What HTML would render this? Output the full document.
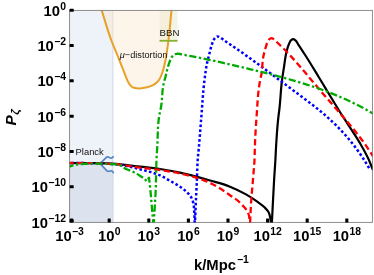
<!DOCTYPE html><html><head><meta charset="utf-8"><style>html,body{margin:0;padding:0;background:#fff}svg{display:block;will-change:transform}</style></head><body><svg width="374" height="275" viewBox="0 0 374 275">
<rect width="374" height="275" fill="#fff"/>
<defs><clipPath id="c"><rect x="69.60" y="10.40" width="302.80" height="212.00"/></clipPath></defs>
<rect x="69.60" y="10.40" width="43.70" height="212.00" fill="#eef2f9"/>
<path d="M69.6,163.5 L100.8,163.6 L100.80,164.40 L107.00,170.80 L107.00,170.80 C107.33,170.97 107.65,171.21 108.00,171.30 C108.47,171.41 109.00,171.26 109.50,171.20 C110.14,171.12 110.82,170.65 111.40,170.80 C111.83,170.91 112.26,171.27 112.60,171.60 C113.04,172.03 113.27,172.67 113.60,173.20 L113.3,222.4 L69.6,222.4 Z" fill="#dce3ee"/>
<line x1="112.8" x2="112.8" y1="10.4" y2="222.4" stroke="#d3dbe9" stroke-width="1"/>
<rect x="159.5" y="10.40" width="18" height="30.6" fill="#f2f4e5"/>
<path d="M101.70,10.40 C104.87,20.27 107.56,30.30 111.20,40.00 C113.22,45.39 115.55,50.66 117.70,56.00 C119.85,61.36 121.98,66.73 124.10,72.10 C125.07,74.57 125.87,77.11 127.00,79.50 C127.79,81.17 128.47,82.96 129.60,84.40 C130.48,85.52 131.51,86.71 132.70,87.40 C134.46,88.42 136.90,88.34 139.00,88.40 C141.69,88.48 144.48,87.99 147.10,87.30 C149.29,86.72 151.55,86.04 153.50,84.90 C154.74,84.17 155.97,83.31 157.00,82.30 C157.86,81.46 158.65,80.51 159.30,79.50 C160.00,78.42 160.48,77.19 161.00,76.00 C161.51,74.85 161.97,73.68 162.40,72.50 C163.93,68.31 164.70,63.87 165.60,59.50 C166.93,53.07 167.65,46.52 168.50,40.00 C169.78,30.17 170.50,20.27 171.50,10.40 Z" fill="#fbe6cc" fill-opacity="0.42"/>
<path d="M101.70,10.40 C104.87,20.27 107.56,30.30 111.20,40.00 C113.22,45.39 115.55,50.66 117.70,56.00 C119.85,61.36 121.98,66.73 124.10,72.10 C125.07,74.57 125.87,77.11 127.00,79.50 C127.79,81.17 128.47,82.96 129.60,84.40 C130.48,85.52 131.51,86.71 132.70,87.40 C134.46,88.42 136.90,88.34 139.00,88.40 C141.69,88.48 144.48,87.99 147.10,87.30 C149.29,86.72 151.55,86.04 153.50,84.90 C154.74,84.17 155.97,83.31 157.00,82.30 C157.86,81.46 158.65,80.51 159.30,79.50 C160.00,78.42 160.48,77.19 161.00,76.00 C161.51,74.85 161.97,73.68 162.40,72.50 C163.93,68.31 164.70,63.87 165.60,59.50 C166.93,53.07 167.65,46.52 168.50,40.00 C169.78,30.17 170.50,20.27 171.50,10.40" fill="none" stroke="#e8a128" stroke-width="2.0"/>
<line x1="159.5" x2="177.5" y1="40.8" y2="40.8" stroke="#88b230" stroke-width="1.8"/>
<path d="M69.6,163.3 L100.2,163.5 L100.80,162.80 L106.60,157.10 L106.60,157.10 C106.93,157.00 107.27,156.80 107.60,156.80 C108.01,156.81 108.40,157.13 108.80,157.30 C109.31,157.52 109.77,157.90 110.30,158.00 C110.72,158.08 111.20,158.12 111.60,158.00 C111.96,157.89 112.30,157.64 112.60,157.40 C112.98,157.10 113.27,156.67 113.60,156.30" fill="none" stroke="#5585c6" stroke-width="1.7" stroke-linejoin="round"/>
<path d="M100.2,163.5 L100.80,164.40 L107.00,170.80 L107.00,170.80 C107.33,170.97 107.65,171.21 108.00,171.30 C108.47,171.41 109.00,171.26 109.50,171.20 C110.14,171.12 110.82,170.65 111.40,170.80 C111.83,170.91 112.26,171.27 112.60,171.60 C113.04,172.03 113.27,172.67 113.60,173.20" fill="none" stroke="#5585c6" stroke-width="1.7" stroke-linejoin="round"/>
<rect x="69.60" y="10.40" width="302.80" height="212.00" fill="none" stroke="#808080" stroke-width="0.9"/>
<g clip-path="url(#c)" fill="none" stroke-linejoin="round">
<path id="c000" d="M69.60,163.00 C79.73,163.07 89.88,162.84 100.00,163.20 C106.67,163.44 113.35,163.72 120.00,164.30 C126.69,164.88 133.33,165.92 140.00,166.70 C146.66,167.48 153.36,168.02 160.00,169.00 C166.70,169.99 173.39,171.16 180.00,172.60 C185.13,173.72 190.22,175.06 195.30,176.40 C200.22,177.70 205.12,179.07 210.00,180.50 C216.70,182.46 223.54,184.11 230.00,186.70 C235.48,188.89 240.87,191.47 246.00,194.40 C249.88,196.62 253.67,199.08 257.30,201.70 C259.76,203.48 262.37,205.15 264.50,207.30 C265.96,208.77 267.54,210.29 268.50,212.10 C269.28,213.56 269.71,215.27 270.10,216.90 C270.53,218.69 270.63,220.57 270.90,222.40 L271.90,222.40 C272.27,215.23 272.63,208.07 273.00,200.90 C273.36,193.93 273.69,186.96 274.10,180.00 C274.49,173.33 275.03,166.67 275.40,160.00 C275.66,155.33 275.82,150.66 276.10,146.00 C276.70,135.99 277.31,125.96 278.50,116.00 C278.78,113.66 279.12,111.34 279.40,109.00 C280.52,99.70 280.71,90.29 281.90,81.00 C282.58,75.65 283.53,70.34 284.30,65.00 C284.64,62.67 284.91,60.32 285.30,58.00 C285.65,55.89 285.99,53.77 286.50,51.70 C287.21,48.81 287.93,45.84 289.30,43.20 C289.83,42.17 290.23,40.89 291.10,40.20 C291.70,39.72 292.58,39.18 293.30,39.20 C294.05,39.22 294.86,39.90 295.50,40.40 C296.62,41.29 297.17,42.82 298.00,44.03 C300.40,47.57 302.70,51.17 305.00,54.77 C307.37,58.48 309.69,62.23 312.00,65.98 C314.36,69.81 316.67,73.65 319.00,77.49 C321.34,81.36 323.66,85.25 326.00,89.12 C328.33,92.97 330.65,96.83 333.00,100.67 C335.31,104.45 337.64,108.22 340.00,111.96 C342.30,115.61 344.66,119.23 347.00,122.85 C349.32,126.45 351.71,130.01 354.00,133.62 C356.38,137.36 358.78,141.09 361.00,144.93 C363.47,149.20 365.90,153.53 368.00,158.00 C369.85,161.94 371.33,166.05 373.00,170.08" stroke="#000" stroke-width="2.20"/>
<path id="c0000ff" d="M69.60,163.00 C79.73,163.17 89.88,163.00 100.00,163.50 C106.97,163.84 114.01,163.97 120.90,165.00 C127.37,165.97 133.76,167.63 140.10,169.30 C146.80,171.07 153.71,172.55 160.00,175.40 C163.44,176.96 166.70,178.94 170.00,180.80 C173.16,182.58 176.42,184.24 179.40,186.30 C182.13,188.18 184.90,190.13 187.20,192.50 C188.61,193.95 190.08,195.47 191.10,197.20 C192.20,199.07 192.88,201.28 193.40,203.40 C194.02,205.95 193.99,208.66 194.20,211.30 C194.49,214.99 194.53,218.70 194.70,222.40 L195.00,222.40 C195.27,216.07 195.52,209.73 195.80,203.40 C196.15,195.60 196.56,187.80 196.90,180.00 C197.19,173.33 197.23,166.65 197.70,160.00 C198.03,155.33 198.59,150.67 199.00,146.00 C199.89,136.01 200.57,126.00 201.40,116.00 C202.39,104.00 202.96,91.94 204.50,80.00 C205.22,74.42 205.83,68.80 207.00,63.30 C207.66,60.21 208.49,57.16 209.30,54.10 C210.30,50.32 211.00,46.40 212.50,42.80 C213.12,41.30 213.61,39.67 214.60,38.40 C215.02,37.87 215.43,37.24 216.00,36.90 C216.41,36.65 216.93,36.43 217.40,36.40 C217.93,36.37 218.50,36.59 219.00,36.80 C219.53,37.02 220.01,37.39 220.50,37.70 C221.04,38.05 221.57,38.42 222.10,38.80 C222.74,39.26 223.36,39.75 224.00,40.22 C226.27,41.87 228.68,43.35 231.00,44.93 C233.34,46.53 235.67,48.14 238.00,49.77 C240.34,51.40 242.67,53.05 245.00,54.71 C247.34,56.38 249.67,58.06 252.00,59.75 C254.34,61.44 256.67,63.14 259.00,64.85 C261.34,66.57 263.67,68.29 266.00,70.02 C268.34,71.75 270.67,73.49 273.00,75.22 C275.34,76.96 277.67,78.71 280.00,80.46 C282.33,82.20 284.67,83.95 287.00,85.70 C289.33,87.44 291.67,89.19 294.00,90.93 C296.33,92.67 298.67,94.40 301.00,96.15 C303.34,97.89 305.68,99.63 308.00,101.40 C310.35,103.19 312.69,104.98 315.00,106.82 C317.36,108.68 319.70,110.57 322.00,112.51 C324.37,114.50 326.71,116.53 329.00,118.60 C331.38,120.76 333.72,122.97 336.00,125.22 C338.39,127.59 340.73,130.01 343.00,132.48 C345.40,135.10 347.74,137.78 350.00,140.51 C352.42,143.44 354.76,146.45 357.00,149.51 C359.44,152.84 361.77,156.26 364.00,159.74 C365.87,162.65 367.60,165.66 369.40,168.63" stroke="#0000ff" stroke-width="2.50" stroke-dasharray="2.6 2.3" stroke-dashoffset="3.15"/>
<path id="cff0000" d="M69.60,163.00 C79.73,163.10 89.88,162.86 100.00,163.30 C106.67,163.59 113.37,163.87 120.00,164.60 C126.70,165.33 133.32,166.80 140.00,167.70 C146.65,168.60 153.36,169.04 160.00,170.00 C166.70,170.97 173.39,172.07 180.00,173.50 C185.13,174.61 190.30,175.72 195.30,177.30 C201.07,179.12 206.81,181.27 212.20,184.00 C216.42,186.13 220.45,188.68 224.40,191.30 C226.29,192.56 228.14,193.89 230.00,195.20 C232.68,197.08 235.53,198.77 238.00,200.90 C239.99,202.62 241.85,204.53 243.60,206.50 C244.75,207.79 246.02,209.04 246.90,210.50 C247.79,211.97 248.43,213.65 248.90,215.30 C249.54,217.57 249.43,220.03 249.70,222.40 L250.10,222.40 C250.47,215.23 250.71,208.06 251.20,200.90 C251.64,194.46 252.28,188.03 252.80,181.60 C253.38,174.40 254.15,167.21 254.50,160.00 C254.72,155.34 254.73,150.66 254.90,146.00 C255.28,135.99 255.84,125.98 256.60,116.00 C257.52,103.98 257.84,91.82 260.20,80.00 C260.60,77.99 261.13,76.01 261.50,74.00 C262.52,68.51 262.14,62.78 263.20,57.30 C263.83,54.07 264.60,50.84 265.60,47.70 C266.30,45.50 266.76,43.12 268.00,41.20 C268.52,40.39 269.03,39.44 269.80,38.90 C270.32,38.53 271.01,38.12 271.60,38.10 C272.34,38.08 273.12,38.76 273.80,39.20 C275.03,39.98 275.94,41.22 277.00,42.24 C279.35,44.48 281.71,46.72 284.00,49.02 C286.38,51.43 288.70,53.91 291.00,56.40 C293.37,58.97 295.69,61.59 298.00,64.22 C300.36,66.90 302.68,69.63 305.00,72.35 C307.35,75.10 309.67,77.88 312.00,80.64 C314.34,83.42 316.66,86.20 319.00,88.97 C321.32,91.71 323.65,94.45 326.00,97.18 C328.32,99.87 330.66,102.54 333.00,105.22 C335.33,107.89 337.68,110.55 340.00,113.23 C342.35,115.93 344.69,118.64 347.00,121.37 C349.36,124.17 351.71,126.98 354.00,129.83 C356.37,132.78 358.73,135.76 361.00,138.79 C363.40,141.99 365.76,145.22 368.00,148.54 C369.72,151.08 371.33,153.71 373.00,156.29" stroke="#ff0000" stroke-width="2.30" stroke-dasharray="6.3 3.4" stroke-dashoffset="2.35"/>
<path id="green" d="M69.60,166.50 C70.73,166.10 71.85,165.62 73.00,165.30 C74.31,164.93 75.66,164.71 77.00,164.50 C78.65,164.24 80.33,164.14 82.00,164.00 C87.98,163.50 94.00,163.49 100.00,163.60 C103.33,163.66 106.68,163.70 110.00,164.00 C113.65,164.33 117.68,164.01 120.90,165.60 C122.35,166.32 123.57,167.58 125.00,168.40 C127.25,169.68 129.86,170.27 132.20,171.40 C135.10,172.80 137.89,174.46 140.60,176.20 C141.85,177.00 143.18,177.73 144.30,178.70 C145.17,179.45 145.90,180.37 146.70,181.20 L149,177.6 L150.4,190 L153.2,222.4 L153.80,222.40 C154.43,211.60 155.25,200.81 155.70,190.00 C156.12,180.01 156.03,169.99 156.50,160.00 C156.72,155.33 157.02,150.67 157.30,146.00 C157.89,136.00 157.57,125.87 159.20,116.00 C159.75,112.65 160.64,109.35 161.20,106.00 C162.30,99.40 161.92,92.57 163.20,86.00 C163.53,84.33 163.86,82.65 164.30,81.00 C164.57,79.99 164.92,79.00 165.20,78.00 C165.91,75.46 166.32,72.84 167.00,70.30 C167.71,67.64 168.41,64.96 169.40,62.40 C170.11,60.56 170.63,58.55 171.80,57.00 C172.50,56.08 173.29,55.04 174.30,54.50 C175.01,54.12 175.89,53.91 176.70,53.80 C177.78,53.65 178.91,53.87 180.00,54.00 C181.35,54.16 182.67,54.54 184.00,54.80 C186.33,55.25 188.67,55.68 191.00,56.13 C193.33,56.59 195.67,57.05 198.00,57.52 C200.33,57.99 202.67,58.47 205.00,58.95 C207.33,59.44 209.67,59.93 212.00,60.43 C214.33,60.93 216.67,61.44 219.00,61.95 C221.33,62.46 223.67,62.98 226.00,63.51 C228.33,64.04 230.67,64.57 233.00,65.11 C235.33,65.65 237.67,66.20 240.00,66.75 C242.33,67.30 244.67,67.86 247.00,68.42 C249.33,68.99 251.67,69.56 254.00,70.13 C256.33,70.71 258.67,71.28 261.00,71.87 C263.33,72.45 265.67,73.04 268.00,73.64 C270.33,74.23 272.67,74.83 275.00,75.44 C277.34,76.06 279.67,76.67 282.00,77.31 C284.34,77.94 286.67,78.58 289.00,79.24 C291.34,79.90 293.67,80.57 296.00,81.26 C298.34,81.95 300.67,82.65 303.00,83.37 C305.34,84.10 307.67,84.84 310.00,85.61 C312.34,86.38 314.67,87.16 317.00,87.98 C319.34,88.79 321.68,89.63 324.00,90.49 C326.34,91.36 328.68,92.25 331.00,93.17 C333.34,94.09 335.68,95.04 338.00,96.02 C340.34,97.01 342.68,98.02 345.00,99.07 C347.35,100.13 349.68,101.21 352.00,102.33 C354.35,103.46 356.68,104.62 359.00,105.81 C361.35,107.02 363.68,108.26 366.00,109.53 C368.35,110.82 370.67,112.18 373.00,113.51" stroke="#00aa00" stroke-width="2.3" stroke-dasharray="7.2 2.5 2.4 2.5" stroke-dashoffset="3.2"/>
</g>
<rect x="70.05" y="218.5" width="3.1" height="4" rx="0.5" fill="#000"/>
<rect x="107.65" y="218.5" width="3.1" height="4" rx="0.5" fill="#000"/>
<rect x="147.25" y="218.5" width="3.1" height="4" rx="0.5" fill="#000"/>
<rect x="186.85" y="218.5" width="3.1" height="4" rx="0.5" fill="#000"/>
<rect x="226.45" y="218.5" width="3.1" height="4" rx="0.5" fill="#000"/>
<rect x="266.05" y="218.5" width="3.1" height="4" rx="0.5" fill="#000"/>
<rect x="305.65" y="218.5" width="3.1" height="4" rx="0.5" fill="#000"/>
<rect x="345.25" y="218.5" width="3.1" height="4" rx="0.5" fill="#000"/>
<rect x="69.60" y="8.70" width="4.1" height="3" rx="0.5" fill="#000"/>
<rect x="69.60" y="44.03" width="4.1" height="3" rx="0.5" fill="#000"/>
<rect x="69.60" y="79.37" width="4.1" height="3" rx="0.5" fill="#000"/>
<rect x="69.60" y="114.70" width="4.1" height="3" rx="0.5" fill="#000"/>
<rect x="69.60" y="150.04" width="4.1" height="3" rx="0.5" fill="#000"/>
<rect x="69.60" y="185.37" width="4.1" height="3" rx="0.5" fill="#000"/>
<rect x="69.60" y="219.20" width="4.1" height="3" rx="0.5" fill="#000"/>
<g font-family="Liberation Sans, sans-serif" font-weight="bold" fill="#000">
<text x="55.29" y="241.4" font-size="14.8">10</text><text x="72.05" y="235.2" font-size="10.4">−3</text>
<text x="97.93" y="241.4" font-size="14.8">10</text><text x="114.69" y="235.2" font-size="10.4">0</text>
<text x="137.53" y="241.4" font-size="14.8">10</text><text x="154.29" y="235.2" font-size="10.4">3</text>
<text x="177.13" y="241.4" font-size="14.8">10</text><text x="193.89" y="235.2" font-size="10.4">6</text>
<text x="216.73" y="241.4" font-size="14.8">10</text><text x="233.49" y="235.2" font-size="10.4">9</text>
<text x="253.44" y="241.4" font-size="14.8">10</text><text x="270.20" y="235.2" font-size="10.4">12</text>
<text x="293.04" y="241.4" font-size="14.8">10</text><text x="309.80" y="235.2" font-size="10.4">15</text>
<text x="332.64" y="241.4" font-size="14.8">10</text><text x="349.40" y="235.2" font-size="10.4">18</text>
<text x="43.46" y="15.70" font-size="14.8">10</text><text x="60.22" y="9.70" font-size="10.4">0</text>
<text x="37.39" y="51.03" font-size="14.8">10</text><text x="54.14" y="45.03" font-size="10.4">−2</text>
<text x="37.39" y="86.37" font-size="14.8">10</text><text x="54.14" y="80.37" font-size="10.4">−4</text>
<text x="37.39" y="121.70" font-size="14.8">10</text><text x="54.14" y="115.70" font-size="10.4">−6</text>
<text x="37.39" y="157.04" font-size="14.8">10</text><text x="54.14" y="151.04" font-size="10.4">−8</text>
<text x="31.60" y="192.37" font-size="14.8">10</text><text x="48.36" y="186.37" font-size="10.4">−10</text>
<text x="31.60" y="227.70" font-size="14.8">10</text><text x="48.36" y="221.70" font-size="10.4">−12</text>
<text x="194" y="269.5" font-size="14.8">k/Mpc</text><text x="237" y="263.2" font-size="10.4">−1</text>
<g transform="translate(16.1,125.5) rotate(-90)"><text x="0" y="0" font-size="15.5" font-style="italic">P</text><text x="10.8" y="2.5" font-size="11.3" font-style="italic">ζ</text></g>
</g>
<g font-family="Liberation Sans, sans-serif" fill="#111" font-size="9.4">
<text x="75.6" y="154.8">Planck</text>
<text x="159.6" y="35.9" font-size="9.7">BBN</text>
<text x="119.8" y="57.7" font-size="9.2"><tspan font-style="italic">μ</tspan>−distortion</text>
</g>
</svg></body></html>
